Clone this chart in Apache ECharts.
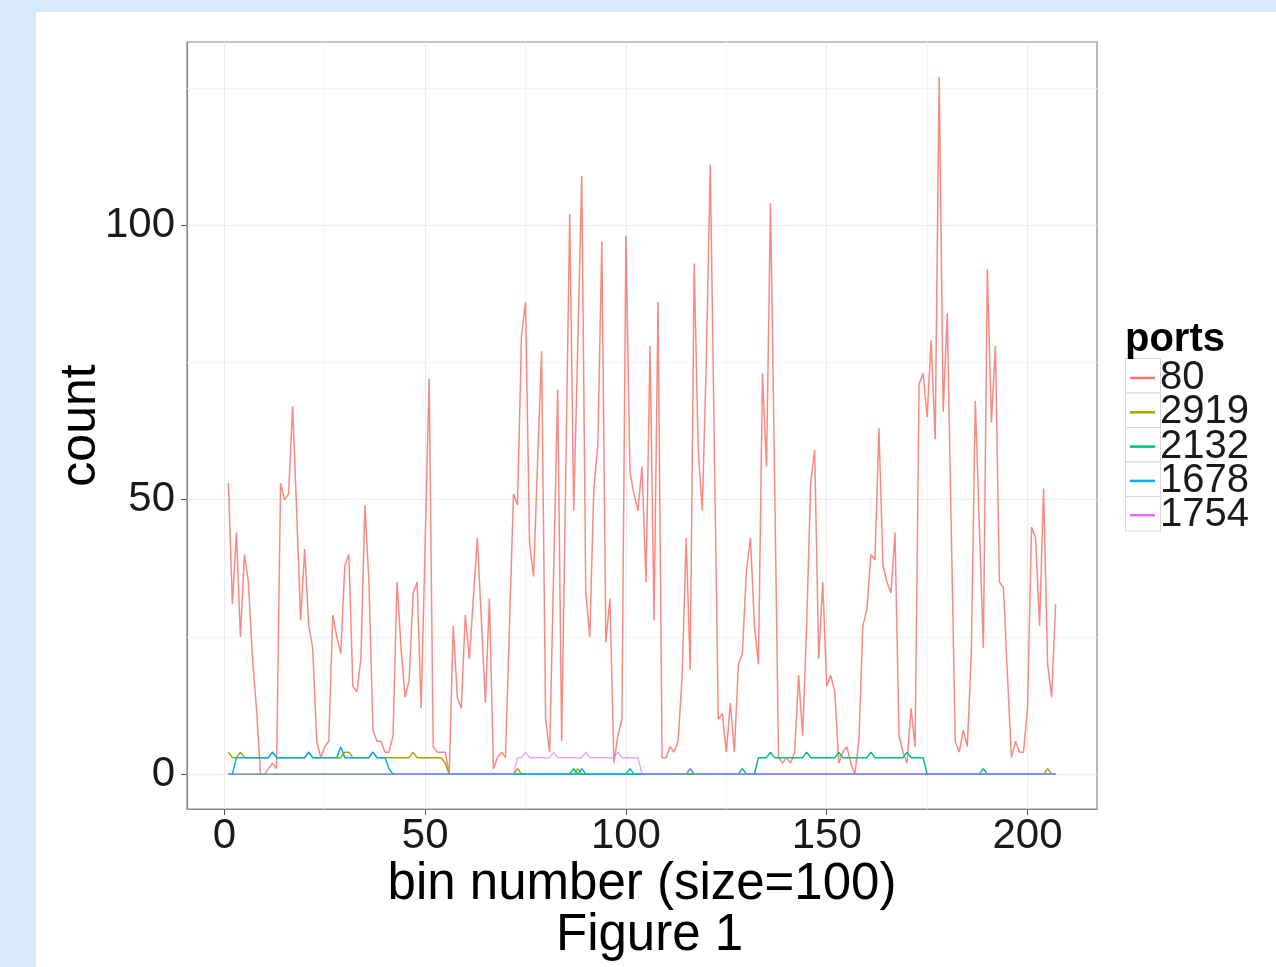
<!DOCTYPE html>
<html>
<head>
<meta charset="UTF-8">
<title>ports</title>
<script src="https://cdn.jsdelivr.net/npm/echarts@6/dist/echarts.min.js"></script>
<style>
    body { margin: 0; padding: 0; background: #d6e9fd; }
    #page { position: absolute; left: 36px; top: 12px; right: 0; bottom: 0; background: #fff; }
    #chart { position: absolute; left: 0; top: 0; width: 1276px; height: 967px; }
</style>
</head>
<body>
<div id="page"></div>
<div id="chart"></div>
<script>
    // counts per bin (bins 1..207)
    var port80 = [
        53,31,44,25,40,35,21,12,0,0, 1,2,1,53,50,51,67,48,28,41,
        27,23,6,3,5,6,29,25,22,38, 40,16,15,21,49,35,8,6,6,4,
        4,7,35,23,14,17,33,35,12,42, 72,5,4,4,4,0,27,14,12,29,
        21,32,43,28,13,32,1,3,4,3, 27,51,49,80,86,42,36,57,77,10,
        4,37,70,6,54,102,48,78,109,33, 25,52,60,97,24,32,2,7,10,98,
        55,51,48,56,35,78,28,86,3,3, 5,4,6,18,43,19,93,59,48,75,
        111,60,10,11,4,13,4,20,22,37, 43,27,20,73,56,104,55,3,2,3,
        2,4,18,7,27,53,59,21,35,16, 18,15,2,4,5,2,0,6,27,30,
        40,39,63,38,35,33,44,7,4,2, 12,5,71,73,65,79,61,127,66,84,
        45,6,4,8,5,22,68,45,23,92, 64,78,35,34,18,3,6,4,4,12,
        45,43,27,52,20,14,31
    ];
    var port2919 = [
        4,3,3,4,3,3,3,3,3,3,3,4,3,3,3,3,3,3,3,3,
        4,3,3,3,3,3,3,3,3,4,4,3,3,3,3,3,4,3,3,3,
        3,3,3,3,3,3,4,3,3,3,3,3,3,3,2,0,0,0,0,0,
        0,0,0,0,0,0,0,0,0,0,0,0,1,0,0,0,0,0,0,0,
        0,0,0,0,0,0,0,1,0,0,0,0,0,0,0,0,0,0,0,0,
        0,0,0,0,0,0,0,0,0,0,0,0,0,0,0,0,0,0,0,0,
        0,0,0,0,0,0,0,0,0,0,0,0,0,0,0,0,0,0,0,0,
        0,0,0,0,0,0,0,0,0,0,0,0,0,0,0,0,0,0,0,0,
        0,0,0,0,0,0,0,0,0,0,0,0,0,0,0,0,0,0,0,0,
        0,0,0,0,0,0,0,0,0,0,0,0,0,0,0,0,0,0,0,0,
        0,0,0,0,1,0,0
    ];
    var port2132 = [
        0,0,0,0,0,0,0,0,0,0,0,0,0,0,0,0,0,0,0,0,
        0,0,0,0,0,0,0,0,0,0,0,0,0,0,0,0,0,0,0,0,
        0,0,0,0,0,0,0,0,0,0,0,0,0,0,0,0,0,0,0,0,
        0,0,0,0,0,0,0,0,0,0,0,0,0,0,0,0,0,0,0,0,
        0,0,0,0,0,0,1,0,0,0,0,0,0,0,0,0,0,0,0,0,
        0,0,0,0,0,0,0,0,0,0,0,0,0,0,0,0,0,0,0,0,
        0,0,0,0,0,0,0,0,1,0,0,0,3,3,3,4,3,3,3,3,
        3,3,3,3,4,3,3,3,3,3,3,3,4,3,3,3,3,3,3,3,
        4,3,3,3,3,3,3,3,3,4,3,3,3,3,0,0,0,0,0,0,
        0,0,0,0,0,0,0,0,1,0,0,0,0,0,0,0,0,0,0,0,
        0,0,0,0,0,0,0
    ];
    var port1678 = [
        0,0,3,3,3,3,3,3,3,3,3,4,3,3,3,3,3,3,3,3,
        4,3,3,3,3,3,3,3,5,3,3,3,3,3,3,3,4,3,3,3,
        1,0,0,0,0,0,0,0,0,0,0,0,0,0,0,0,0,0,0,0,
        0,0,0,0,0,0,0,0,0,0,0,0,0,0,0,0,0,0,0,0,
        0,0,0,0,0,0,0,0,1,0,0,0,0,0,0,0,0,0,0,0,
        1,0,0,0,0,0,0,0,0,0,0,0,0,0,0,1,0,0,0,0,
        0,0,0,0,0,0,0,0,0,0,0,0,0,0,0,0,0,0,0,0,
        0,0,0,0,0,0,0,0,0,0,0,0,0,0,0,0,0,0,0,0,
        0,0,0,0,0,0,0,0,0,0,0,0,0,0,0,0,0,0,0,0,
        0,0,0,0,0,0,0,0,0,0,0,0,0,0,0,0,0,0,0,0,
        0,0,0,0,0,0,0
    ];
    var port1754 = [
        0,0,0,0,0,0,0,0,0,0,0,0,0,0,0,0,0,0,0,0,
        0,0,0,0,0,0,0,0,0,0,0,0,0,0,0,0,0,0,0,0,
        0,0,0,0,0,0,0,0,0,0,0,0,0,0,0,0,0,0,0,0,
        0,0,0,0,0,0,0,0,0,0,0,0,3,3,4,3,3,3,3,3,
        3,4,3,3,3,3,3,3,3,4,3,3,3,3,3,3,3,4,3,3,
        3,3,3,0,0,0,0,0,0,0,0,0,0,0,0,1,0,0,0,0,
        0,0,0,0,0,0,0,0,0,0,0,0,0,0,0,0,0,0,0,0,
        0,0,0,0,0,0,0,0,0,0,0,0,0,0,0,0,0,0,0,0,
        0,0,0,0,0,0,0,0,0,0,0,0,0,0,0,0,0,0,0,0,
        0,0,0,0,0,0,0,0,0,0,0,0,0,0,0,0,0,0,0,0,
        0,0,0,0,0,0,0
    ];

    var portNames = ['80', '2919', '2132', '1678', '1754'];
    var portColors = ['#F8766D', '#A3A500', '#00BF7D', '#00B0F6', '#E76BF3'];
    var xTicks = [0, 50, 100, 150, 200];
    var xMinor = [25, 75, 125, 175];
    var yTicks = [0, 50, 100];
    var yMinor = [25, 75, 125];

    var bins = [];
    for (var i = 0; i < port80.length; i++) bins.push(i + 1);

    function pairs(vals) {
        return vals.map(function (v, i) { return [bins[i], v]; });
    }

    var font = '"Liberation Sans", Arial, sans-serif';
    var chart = echarts.init(document.getElementById('chart'), null, {renderer: 'canvas'});

    var minorStyle = {type: 'solid', color: '#f4f4f4', width: 1};
    var majorStyle = {type: 'solid', color: '#ebebeb', width: 1.2};
    var gridLines = []
        .concat(xMinor.map(function (v) { return {xAxis: v, lineStyle: minorStyle}; }))
        .concat(yMinor.map(function (v) { return {yAxis: v, lineStyle: minorStyle}; }))
        .concat(xTicks.map(function (v) { return {xAxis: v, lineStyle: majorStyle}; }))
        .concat(yTicks.map(function (v) { return {yAxis: v, lineStyle: majorStyle}; }));

    var series = [{
        name: 'grid',
        type: 'line',
        data: [],
        z: 1,
        silent: true,
        markLine: {
            silent: true,
            z: 1,
            symbol: ['none', 'none'],
            label: {show: false},
            lineStyle: {type: 'solid'},
            animation: false,
            data: gridLines
        }
    }];
    var allData = [port80, port2919, port2132, port1678, port1754];
    allData.forEach(function (vals, k) {
        series.push({
            name: portNames[k],
            type: 'line',
            data: pairs(vals),
            showSymbol: false,
            symbol: 'none',
            z: 2 + k,
            color: portColors[k],
            lineStyle: {width: 1.5, color: portColors[k], opacity: k === 4 ? 0.6 : (k === 0 ? 0.85 : 1)}
        });
    });

    var rowH = 34.5;
    var keyBoxes = portNames.map(function (n, k) {
        return {
            type: 'rect',
            left: 1125, top: 358 + k * rowH,
            shape: {width: 35, height: rowH},
            style: {fill: '#fff', stroke: '#d9d9d9', lineWidth: 1},
            z: 0
        };
    });

    chart.setOption({
        animation: false,
        backgroundColor: 'transparent',
        textStyle: {fontFamily: font},
        title: [
            {text: 'ports', left: 1125, top: 320, padding: 0,
             textStyle: {fontSize: 40, fontWeight: 'bold', color: '#000', fontFamily: font}},
            {text: 'Figure 1', left: 556, top: 910, padding: 0,
             textStyle: {fontSize: 51, fontWeight: 'normal', color: '#000', fontFamily: font}}
        ],
        graphic: keyBoxes,
        legend: {
            data: portNames,
            orient: 'vertical',
            left: 1130, top: 358,
            padding: 0,
            icon: 'rect',
            itemWidth: 25, itemHeight: 2.5,
            itemGap: -5.7,
            textStyle: {fontSize: 40, color: '#1a1a1a', fontFamily: font}
        },
        grid: {left: 187, top: 42, width: 910, height: 767, show: true,
               borderColor: '#8a8a8a', borderWidth: 1.2, backgroundColor: '#fff'},
        xAxis: {
            type: 'value', min: -9.3, max: 217.3,
            name: 'bin number (size=100)', nameLocation: 'middle', nameGap: 50,
            nameMoveOverlap: false,
            nameTextStyle: {fontSize: 51, color: '#000', fontFamily: font},
            axisLine: {show: true, onZero: false, lineStyle: {color: '#8a8a8a', width: 1.2}},
            axisTick: {show: true, length: 6, customValues: xTicks, lineStyle: {color: '#555'}},
            axisLabel: {customValues: xTicks, fontSize: 42, color: '#1a1a1a', margin: 6, fontFamily: font},
            splitLine: {show: false}
        },
        yAxis: {
            type: 'value', min: -6.35, max: 133.35,
            name: 'count', nameLocation: 'middle', nameGap: 81, nameRotate: 90,
            nameMoveOverlap: false,
            nameTextStyle: {fontSize: 50, color: '#000', fontFamily: font},
            axisLine: {show: true, onZero: false, lineStyle: {color: '#8a8a8a', width: 1.2}},
            axisTick: {show: true, length: 6, customValues: yTicks, lineStyle: {color: '#555'}},
            axisLabel: {customValues: yTicks, fontSize: 42, color: '#1a1a1a', margin: 12, fontFamily: font},
            splitLine: {show: false}
        },
        series: series
    });
</script>
</body>
</html>
